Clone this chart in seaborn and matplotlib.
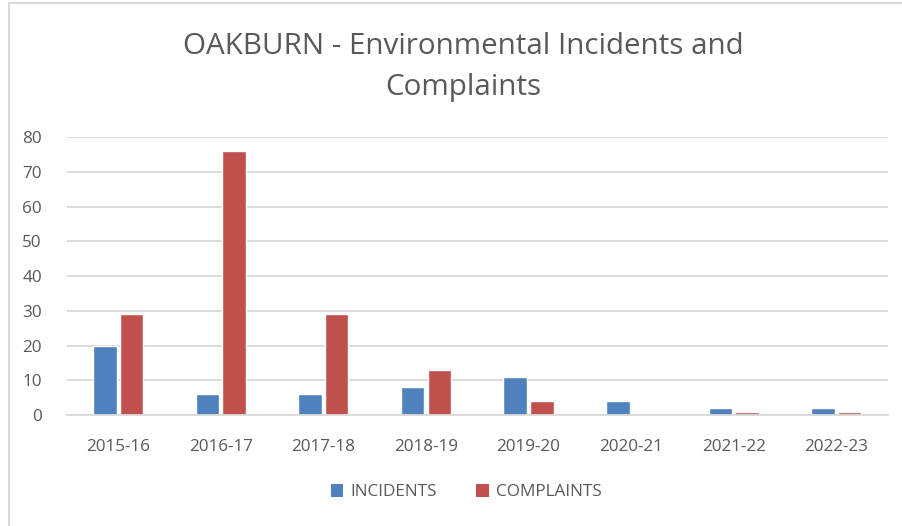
import seaborn as sns
import pandas as pd
import matplotlib.pyplot as plt
from matplotlib.patches import Patch
from matplotlib.lines import Line2D

years = ['2015-16', '2016-17', '2017-18', '2018-19', '2019-20', '2020-21', '2021-22', '2022-23']
incidents = [20, 6, 6, 8, 11, 4, 2, 2]
complaints = [29, 76, 29, 13, 4, 0, 1, 1]
series_names = ['INCIDENTS', 'COMPLAINTS']
colors = ['#4F81BD', '#C0504D']

sns.set_style("white")
plt.rcParams['font.family'] = ['Open Sans', 'DejaVu Sans']

df = pd.DataFrame({'year': years, 'INCIDENTS': incidents, 'COMPLAINTS': complaints})
long = df.melt(id_vars='year', var_name='series', value_name='count')

fig = plt.figure(figsize=(9.03, 5.26), dpi=100)
ax = fig.add_axes([0.074, 0.211, 0.909, 0.5285])

sns.barplot(data=long, x='year', y='count', hue='series', hue_order=series_names,
            palette=colors, width=0.52, gap=0.12, saturation=1, ax=ax, legend=False)

ax.set_ylim(0, 80)
ax.set_yticks(range(0, 81, 10))
ax.set_xlim(-0.5, len(years) - 0.5)
ax.yaxis.grid(True, color='#D9D9D9', linewidth=1.3)
ax.set_axisbelow(True)
for s in ['top', 'right', 'left']:
    ax.spines[s].set_visible(False)
ax.spines['bottom'].set_color('#D9D9D9')
ax.spines['bottom'].set_linewidth(1.3)
ax.tick_params(axis='both', length=0, labelsize=12.3, colors='#595959')
ax.tick_params(axis='x', pad=17)
ax.tick_params(axis='y', pad=18)
ax.set_xlabel('')
ax.set_ylabel('')

fig.text(0.513, 0.873, 'OAKBURN - Environmental Incidents and\nComplaints', ha='center', va='center',
         fontsize=21.3, color='#595959', linespacing=1.55)

handles = [Patch(facecolor=c, edgecolor='none') for c in colors]
fig.legend(handles, series_names, loc='center', bbox_to_anchor=(0.516, 0.064), ncol=2, frameon=False,
           fontsize=12.3, labelcolor='#595959', handlelength=0.75, handleheight=0.75,
           handletextpad=0.4, columnspacing=2.3)

# thin chart border visible on the top and left
fig.add_artist(Line2D([9 / 903, 9 / 903], [0, 1 - 3 / 526], transform=fig.transFigure, color='#D9D9D9', linewidth=1.5))
fig.add_artist(Line2D([9 / 903, 1], [1 - 3 / 526, 1 - 3 / 526], transform=fig.transFigure, color='#D9D9D9', linewidth=1.5))

fig.savefig('out.png', dpi=100)
